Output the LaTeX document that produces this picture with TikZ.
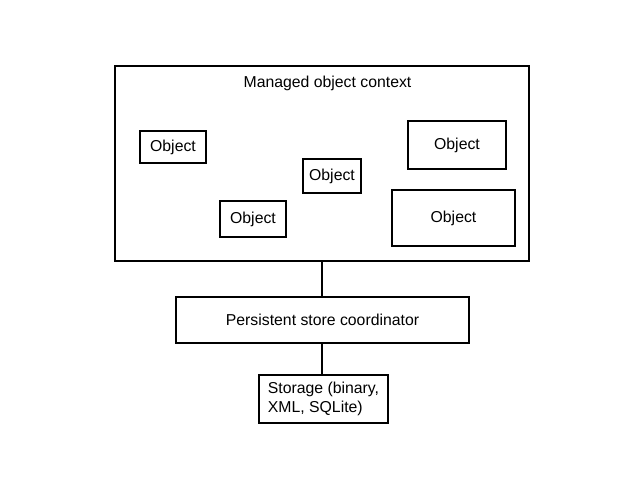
\documentclass[tikz,border=0pt]{standalone}
\usepackage{fontspec}
\setmainfont{Liberation Sans}

\begin{document}
\begin{tikzpicture}[x=1pt,y=-1pt,
  box/.style={draw,line width=2pt,inner sep=0pt,font=\fontsize{15.8}{19}\selectfont},
  link/.style={line width=2pt}]
\useasboundingbox (0,0) rectangle (640,480);
\node[box,minimum width=414,minimum height=195] (moc) at (322,163.5) {};
\node[font=\fontsize{15.8}{19}\selectfont] (moclabel) at (327.5,83.5) {Managed object context};
%objects in the context
\node[box,minimum width=66,minimum height=32] (obja) at (173,147) {Object};
\node[box,minimum width=98,minimum height=48] (objb) at (457,145) {Object};
\node[box,minimum width=58,minimum height=34] (objc) at (332,176) {Object};
\node[box,minimum width=66,minimum height=36] (objd) at (253,219) {Object};
\node[box,minimum width=123,minimum height=56] (obje) at (453.5,218) {Object};

\node[box,minimum width=293,minimum height=46] (psc) at (322.5,320) {Persistent store coordinator};
\node[box,minimum width=129,minimum height=48,align=left] (store) at (323.5,399) {Storage (binary,\\XML, SQLite)};
\draw[link] (moc.south) -- (moc.south |- psc.north);
\draw[link] (psc.south -| moc.south) -- (moc.south |- store.north);
\end{tikzpicture}
\end{document}
